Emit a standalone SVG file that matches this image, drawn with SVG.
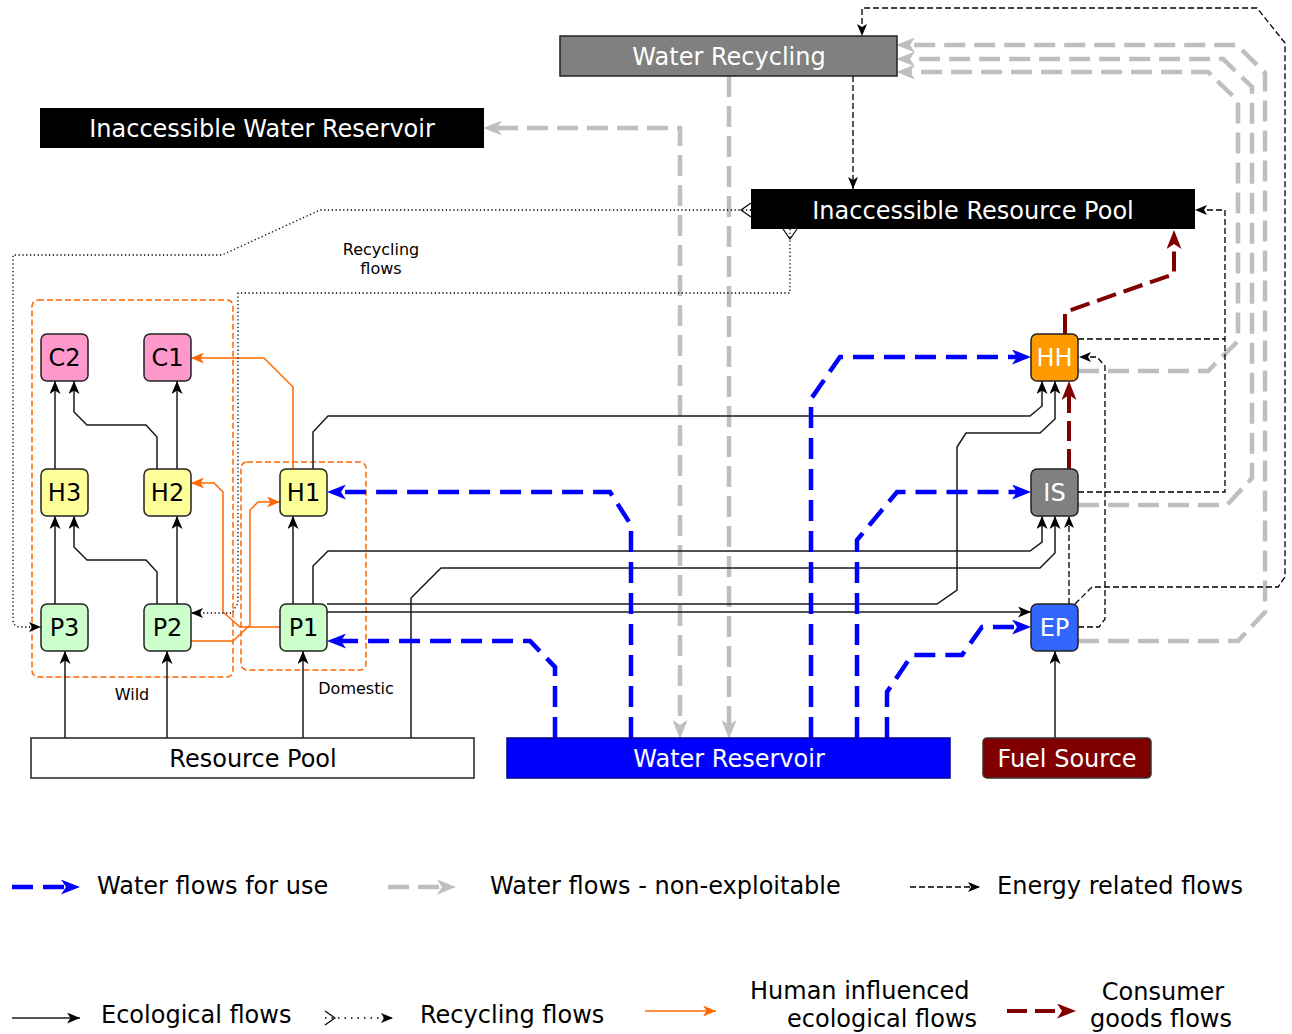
<svg xmlns="http://www.w3.org/2000/svg" width="1292" height="1034" viewBox="0 0 1292 1034">
<style>
text{font-family:"DejaVu Sans","Liberation Sans",sans-serif;fill:#000;}
.t24{font-size:24px;}
.t16{font-size:16px;}
.mid{text-anchor:middle;}
.w{fill:#fff;}
.nd{stroke:#222;stroke-width:1.5;}
.eco{fill:none;stroke:#1a1a1a;stroke-width:1.5;marker-end:url(#aBlack);}
.hum{fill:none;stroke:#ff6600;stroke-width:1.5;marker-end:url(#aOrange);}
.wat{fill:none;stroke:#0000ff;stroke-width:4.5;stroke-dasharray:21,10;marker-end:url(#aBlue);}
.gry{fill:none;stroke:#bfbfbf;stroke-width:4.5;stroke-dasharray:21,9;marker-end:url(#aGray);}
.en{fill:none;stroke:#000;stroke-width:1.3;stroke-dasharray:6,3;marker-end:url(#aEn);}
.en0{fill:none;stroke:#000;stroke-width:1.3;stroke-dasharray:6,3;}
.rec{fill:none;stroke:#000;stroke-width:1.3;stroke-dasharray:1.3,2.5;marker-start:url(#chev);marker-end:url(#aEn);}
.cg{fill:none;stroke:#800000;stroke-width:4;stroke-dasharray:20,8;marker-end:url(#aRed);}
.grp{fill:none;stroke:#ff6600;stroke-width:1.5;stroke-dasharray:6,3;}
</style>
<defs>
<marker id="aBlack" viewBox="0 0 13 11" refX="13" refY="5.5" markerWidth="13" markerHeight="11" markerUnits="userSpaceOnUse" orient="auto"><path d="M0,0 L13,5.5 L0,11 L3.5,5.5 z" fill="#000"/></marker>
<marker id="aOrange" viewBox="0 0 13 11" refX="13" refY="5.5" markerWidth="13" markerHeight="11" markerUnits="userSpaceOnUse" orient="auto"><path d="M0,0 L13,5.5 L0,11 L3.5,5.5 z" fill="#ff6600"/></marker>
<marker id="aEn" viewBox="0 0 12 10" refX="12" refY="5" markerWidth="12" markerHeight="10" markerUnits="userSpaceOnUse" orient="auto"><path d="M0,0 L12,5 L0,10 L3,5 z" fill="#000"/></marker>
<marker id="aBlue" viewBox="0 0 19 15" refX="5" refY="7.5" markerWidth="19" markerHeight="15" markerUnits="userSpaceOnUse" orient="auto"><path d="M0,0 L19,7.5 L0,15 L5,7.5 z" fill="#0000ff"/></marker>
<marker id="aGray" viewBox="0 0 19 15" refX="5" refY="7.5" markerWidth="19" markerHeight="15" markerUnits="userSpaceOnUse" orient="auto-start-reverse"><path d="M0,0 L19,7.5 L0,15 L5,7.5 z" fill="#bfbfbf"/></marker>
<marker id="aRed" viewBox="0 0 19 15" refX="5" refY="7.5" markerWidth="19" markerHeight="15" markerUnits="userSpaceOnUse" orient="auto"><path d="M0,0 L19,7.5 L0,15 L5,7.5 z" fill="#800000"/></marker>
<marker id="chev" viewBox="-1 -1 12 16" refX="0" refY="7" markerWidth="12" markerHeight="16" markerUnits="userSpaceOnUse" orient="auto"><path d="M0,0 L10,7 L0,14" fill="none" stroke="#000" stroke-width="1.2"/></marker>
</defs>

<g id="groups">
<rect class="grp" x="32" y="300" width="201" height="377" rx="6"/>
<rect class="grp" x="241" y="462" width="125" height="208" rx="6"/>
<text class="t16 mid" x="132" y="700">Wild</text>
<text class="t16 mid" x="356" y="694">Domestic</text>
<text class="t16 mid" x="381" y="255">Recycling</text>
<text class="t16 mid" x="381" y="274">flows</text>
</g>

<g id="connectors">
<path class="gry" d="M729,76 V725"/>
<path class="gry" d="M497,128 H680 V725" marker-start="url(#aGray)"/>
<path class="gry" d="M1078,371 H1208 L1238,341 V101 L1208,72 H910"/>
<path class="gry" d="M1078,505 H1227 L1252,478 V87 L1223,59 H910"/>
<path class="gry" d="M1078,641 H1238 L1265,612 V73 L1237,45 H910"/>
<path class="eco" d="M55,604 V516"/>
<path class="eco" d="M55,469 V381"/>
<path class="eco" d="M157,604 V572 L146,560 H87 L74,547 V516"/>
<path class="eco" d="M177,604 V516"/>
<path class="eco" d="M177,469 V381"/>
<path class="eco" d="M157,469 V437 L146,425 H87 L74,412 V381"/>
<path class="eco" d="M293,604 V516"/>
<path class="eco" d="M65,738 V651"/>
<path class="eco" d="M167,738 V651"/>
<path class="eco" d="M303,738 V651"/>
<path class="eco" d="M411,738 V598 L441,568 H1040 L1055,553 V516"/>
<path class="eco" d="M313,604 V566 L328,551 H1030 L1042,542 V516"/>
<path class="eco" d="M313,469 V432 L328,416 H1030 L1042,406 V381"/>
<path class="eco" d="M327,604 H937 L957,590 V447 L966,433 H1040 L1055,419 V381"/>
<path class="eco" d="M327,612 H1031"/>
<path class="eco" d="M1055,738 V651"/>
<path class="hum" d="M293,469 V387 L264,358 H191"/>
<path class="hum" d="M280,627 H240 L223,612 V492 L214,483 H191"/>
<path class="hum" d="M191,641 H233 L250,625 V510 L258,502 H280"/>
<path class="wat" d="M555,738 V667 L530,641 H341"/>
<path class="wat" d="M631,738 V525 L610,492 H341"/>
<path class="wat" d="M811,738 V399 L840,357 H1017"/>
<path class="wat" d="M857,738 V540 L897,492 H1017"/>
<path class="wat" d="M887,738 V692 L912,655 H962 L982,627 H1017"/>
<path class="en" d="M853,76 V189"/>
<path class="en" d="M1075,604 L1092,587 H1278 L1285,577 V43 L1257,8 H862 V36"/>
<path class="en" d="M1078,627 H1099 L1105,619 V366 L1097,357 H1079"/>
<path class="en" d="M1069,604 V516"/>
<path class="en0" d="M1078,339 H1225"/>
<path class="en" d="M1078,492 H1225 V210 H1195"/>
<path class="cg" d="M1065,334 V312 L1174,274 V244"/>
<path class="cg" d="M1069,469 V395"/>
<path class="rec" d="M751,210 H320 L222,255 H13 V619 Q13,627 21,627 H41"/>
<path class="rec" d="M790,229 V293 H238 V603 L232,613 H191"/>
</g>

<g id="water-recycling"><rect class="nd" x="560" y="36" width="337" height="40" fill="#808080"/><text class="t24 mid w" x="729" y="65">Water Recycling</text></g>
<g id="inaccessible-water-reservoir"><rect x="40" y="108" width="444" height="40" fill="#000"/><text class="t24 mid w" x="262" y="137">Inaccessible Water Reservoir</text></g>
<g id="inaccessible-resource-pool"><rect x="751" y="189" width="444" height="40" fill="#000"/><text class="t24 mid w" x="973" y="219">Inaccessible Resource Pool</text></g>
<g id="resource-pool"><rect x="31" y="738" width="443" height="40" fill="#fff" stroke="#222" stroke-width="1.5"/><text class="t24 mid" x="253" y="767">Resource Pool</text></g>
<g id="water-reservoir"><rect x="507" y="738" width="443" height="40" fill="#0000ff" stroke="#00008b" stroke-width="1.5"/><text class="t24 mid w" x="729" y="767">Water Reservoir</text></g>
<g id="fuel-source"><rect x="983" y="738" width="168" height="40" rx="4" fill="#800000" stroke="#333" stroke-width="1.5"/><text class="t24 mid w" x="1067" y="767">Fuel Source</text></g>

<g id="C2"><rect class="nd" x="41" y="334" width="47" height="47" rx="6" fill="#ff99cc"/><text class="t24 mid" x="64.5" y="366">C2</text></g>
<g id="C1"><rect class="nd" x="144" y="334" width="47" height="47" rx="6" fill="#ff99cc"/><text class="t24 mid" x="167.5" y="366">C1</text></g>
<g id="H3"><rect class="nd" x="41" y="469" width="47" height="47" rx="6" fill="#ffff99"/><text class="t24 mid" x="64.5" y="501">H3</text></g>
<g id="H2"><rect class="nd" x="144" y="469" width="47" height="47" rx="6" fill="#ffff99"/><text class="t24 mid" x="167.5" y="501">H2</text></g>
<g id="H1"><rect class="nd" x="280" y="469" width="47" height="47" rx="6" fill="#ffff99"/><text class="t24 mid" x="303.5" y="501">H1</text></g>
<g id="P3"><rect class="nd" x="41" y="604" width="47" height="47" rx="6" fill="#ccffcc"/><text class="t24 mid" x="64.5" y="636">P3</text></g>
<g id="P2"><rect class="nd" x="144" y="604" width="47" height="47" rx="6" fill="#ccffcc"/><text class="t24 mid" x="167.5" y="636">P2</text></g>
<g id="P1"><rect class="nd" x="280" y="604" width="47" height="47" rx="6" fill="#ccffcc"/><text class="t24 mid" x="303.5" y="636">P1</text></g>
<g id="HH"><rect class="nd" x="1031" y="334" width="47" height="47" rx="6" fill="#ff9900"/><text class="t24 mid w" x="1054.5" y="366">HH</text></g>
<g id="IS"><rect class="nd" x="1031" y="469" width="47" height="47" rx="6" fill="#808080"/><text class="t24 mid w" x="1054.5" y="501">IS</text></g>
<g id="EP"><rect class="nd" x="1031" y="604" width="47" height="47" rx="6" fill="#3366ff"/><text class="t24 mid w" x="1054.5" y="636">EP</text></g>

<g id="legend">
<path class="wat" d="M12,887 H66"/>
<text class="t24" x="97" y="894">Water flows for use</text>
<path class="gry" d="M388,887 H442"/>
<text class="t24" x="490" y="894">Water flows - non-exploitable</text>
<path class="en" d="M910,887 H980"/>
<text class="t24" x="997" y="894">Energy related flows</text>
<path class="eco" d="M12,1018 H80"/>
<text class="t24" x="101" y="1023">Ecological flows</text>
<path class="rec" d="M325,1018 H393" style="stroke-dasharray:1.5,5"/>
<text class="t24" x="420" y="1023">Recycling flows</text>
<path class="hum" d="M645,1011 H716"/>
<text class="t24" x="750" y="999">Human influenced</text>
<text class="t24" x="787" y="1027">ecological flows</text>
<path class="cg" d="M1007,1011 H1062"/>
<text class="t24 mid" x="1163" y="1000">Consumer</text>
<text class="t24 mid" x="1161" y="1027">goods flows</text>
</g>
</svg>
